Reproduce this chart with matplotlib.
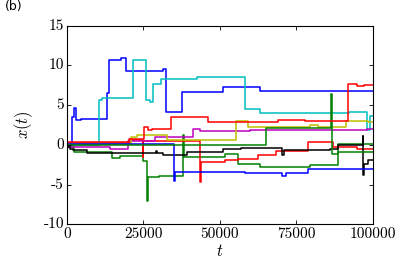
import matplotlib
matplotlib.use("Agg")
import matplotlib.pyplot as plt

# step trajectories: jump times and values
t_b1 = [0, 1800, 2500, 3000, 4500, 13000, 13700, 17800, 19500, 31300, 32300, 37600, 51000, 63200, 100000]
x_b1 = [0, 3.5, 4.7, 3.1, 3.3, 6.5, 10.7, 11.0, 9.35, 9.6, 4.1, 6.6, 7.3, 6.8, 6.8]

t_g1 = [0, 800, 2300, 14700, 17400, 25000, 26300, 26450, 30000, 38100, 38300, 51700, 56100, 63200, 79500, 88800, 100000]
x_g1 = [0, -0.3, -0.95, -1.65, -1.45, -2.05, -7.0, -4.05, -3.9, 1.2, -1.55, -1.1, -2.4, -2.8, -2.5, 0.15, 0.15]

t_r1 = [0, 20500, 24800, 25000, 43600, 43800, 51800, 56000, 62500, 68500, 79000, 87000, 95000, 100000]
x_r1 = [0.2, 0.6, -1.5, 0.55, -4.7, -2.2, -1.95, -1.75, -1.3, -0.8, 0.4, -0.3, -0.5, -0.5]

t_c = [0, 10400, 11500, 21800, 25800, 27300, 28300, 30700, 42500, 58300, 63200, 92400, 98000, 99000, 100000]
x_c = [0, 5.6, 5.9, 10.75, 5.6, 5.4, 7.7, 8.35, 8.55, 4.55, 4.0, 4.15, 1.9, 3.6, 3.6]

t_m = [0, 500, 14000, 20100, 28800, 41400, 43500, 60000, 98000, 100000]
x_m = [0, -0.3, -0.5, 0.5, 0.95, 2.05, 1.75, 1.85, 1.95, 1.95]

t_y = [0, 20900, 23100, 32900, 55300, 59300, 79500, 82200, 91300, 98600, 100000]
x_y = [0.15, 1.0, 1.2, 0.65, 3.05, 2.3, 2.5, 2.2, 3.0, 2.9, 2.9]

t_k = [0, 1000, 2000, 6700, 29000, 29500, 31300, 39200, 51200, 57000, 70400, 71000, 86000, 88800, 96700, 96900, 97100, 98500, 100000]
x_k = [-0.3, -0.5, -0.6, -1.05, -0.8, -1.05, -1.25, -0.9, -0.55, -0.45, -1.3, -0.65, -0.5, -0.05, 1.1, -3.8, -2.4, -1.95, -1.95]

t_b2 = [0, 35100, 35300, 58300, 70400, 71800, 79000, 100000]
x_b2 = [0.1, -4.6, -3.45, -3.55, -3.85, -3.55, -3.05, -3.05]

t_g2 = [0, 65000, 86500, 86700, 88800, 100000]
x_g2 = [-0.05, 2.1, 6.45, -1.1, -0.9, -0.9]

t_r2 = [0, 20400, 25300, 26500, 28000, 34000, 46000, 69000, 78000, 92000, 94800, 97200, 100000]
x_r2 = [0.35, 0.7, 2.25, 1.85, 2.05, 3.55, 2.9, 3.15, 3.0, 7.7, 7.4, 7.6, 7.6]

series = [(t_b1, x_b1, "b"), (t_g1, x_g1, "g"), (t_r1, x_r1, "r"),
          (t_c, x_c, "c"), (t_m, x_m, "m"), (t_y, x_y, "y"),
          (t_k, x_k, "k"), (t_b2, x_b2, "b"), (t_g2, x_g2, "g"),
          (t_r2, x_r2, "r")]

plt.style.use("classic")
plt.rcParams["axes.unicode_minus"] = False

fig = plt.figure(figsize=(4.15, 2.6), dpi=100, facecolor="white")
ax = fig.add_axes([0.161, 0.137, 0.737, 0.764])

for t, x, c in series:
    ax.plot(t, x, color=c, lw=1.1, drawstyle="steps-post")

ax.set_xlim(0, 100000)
ax.set_ylim(-10, 15)
ax.set_xticks([0, 25000, 50000, 75000, 100000])
ax.set_yticks([-10, -5, 0, 5, 10, 15])
ax.tick_params(direction="in", length=3, width=0.6, labelsize=11, pad=2)
for lab in ax.get_xticklabels() + ax.get_yticklabels():
    lab.set_family("cmr10")
for s in ax.spines.values():
    s.set_linewidth(0.8)

ax.set_xlabel("$t$", fontsize=12, labelpad=1)
ax.set_ylabel("$x(t)$", fontsize=12, labelpad=6)
fig.text(0.012, 0.96, "(b)", fontsize=9, family="DejaVu Sans")

fig.savefig("out.png", dpi=100, facecolor="white")
